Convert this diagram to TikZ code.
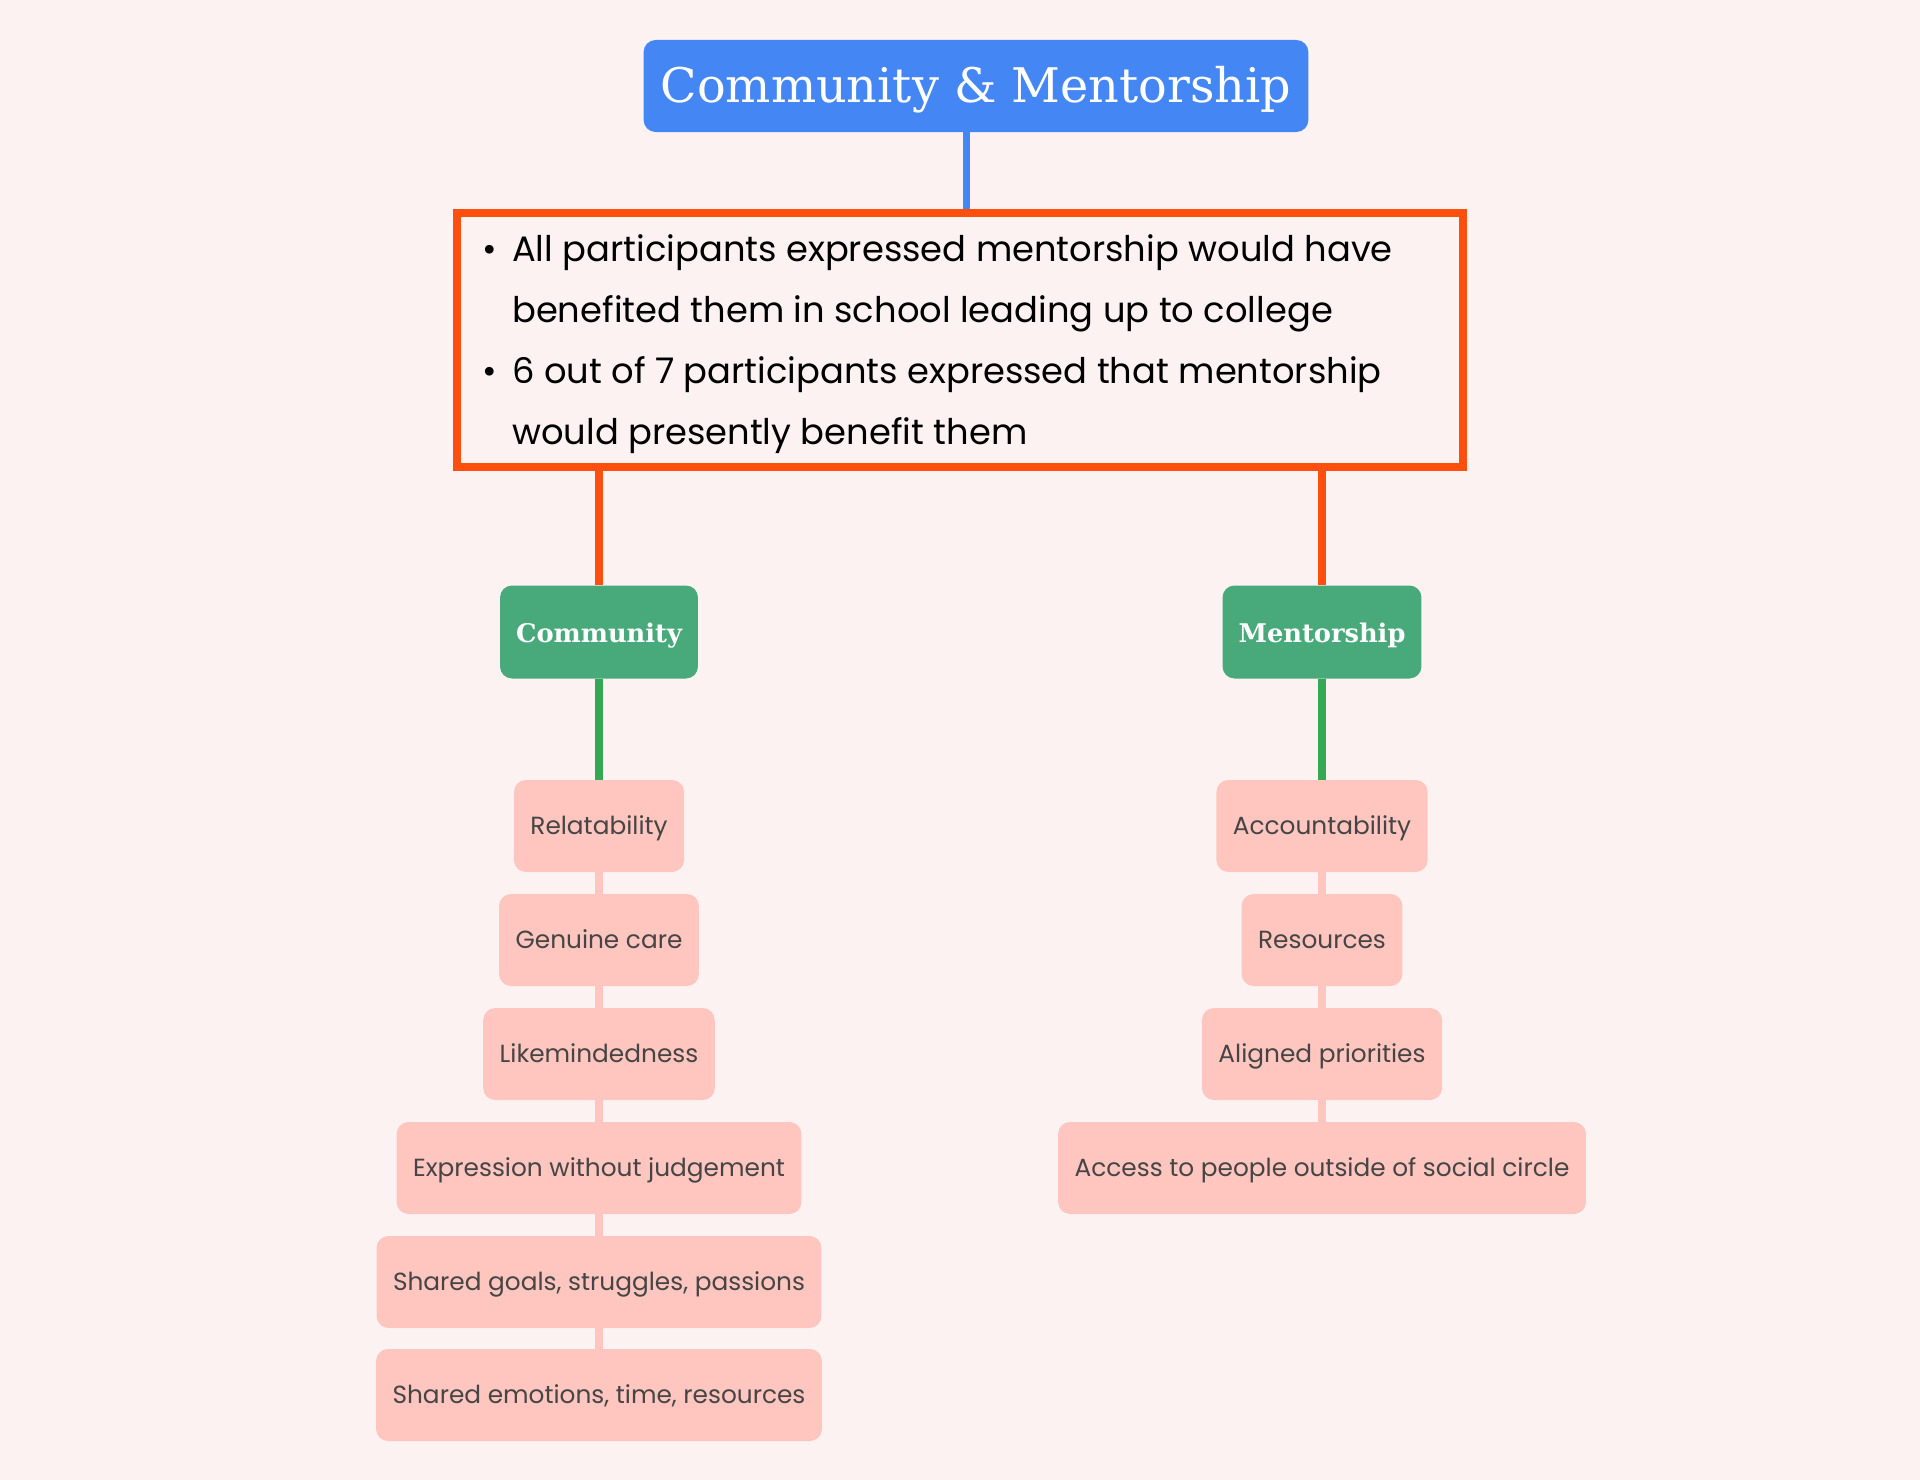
\documentclass[tikz,border=0pt]{standalone}
\usepackage{fontspec}
\setmainfont{Poppins}
\newfontfamily\titlefont{DejaVu Serif}
\definecolor{bgc}{HTML}{FCF2F2}
\definecolor{bluec}{HTML}{4487F4}
\definecolor{orangec}{HTML}{FF4F0F}
\definecolor{greenbox}{HTML}{48AA7B}
\definecolor{greenline}{HTML}{34A853}
\definecolor{pinkc}{HTML}{FFC5BF}
\definecolor{pinktext}{HTML}{454545}
\begin{document}
\begin{tikzpicture}[x=1pt,y=-1pt,
  titlebox/.style={fill=bluec, rounded corners=12pt, text=white, minimum height=92pt, inner xsep=17pt, text height=40pt, text depth=7.2pt, font=\titlefont\fontsize{47.7}{54}\selectfont},
  catbox/.style={fill=greenbox, rounded corners=12pt, text=white, minimum height=93pt, inner xsep=16pt, text height=24pt, text depth=3.2pt, font=\titlefont\bfseries\fontsize{25.7}{30}\selectfont},
  itembox/.style={fill=pinkc, rounded corners=12pt, text=pinktext, minimum height=92pt, inner xsep=16.5pt, text height=18pt, text depth=1.5pt, font=\fontsize{24.8}{30}\selectfont},
  infobox/.style={draw=orangec, line width=8pt, minimum width=1006pt, minimum height=254pt, inner sep=0pt},
  blueln/.style={draw=bluec, line width=7pt},
  orangeln/.style={draw=orangec, line width=8pt},
  greenln/.style={draw=greenline, line width=8pt},
  pinkln/.style={draw=pinkc, line width=8pt}]
\fill[bgc] (0,0) rectangle (1920,1480);
\useasboundingbox (0,0) rectangle (1920,1480);
% nodes
\node[titlebox] (title) at (976,86) {Community \& Mentorship};
\node[infobox] (info) at (960,340) {};
\node[anchor=west, inner sep=0pt, align=left, text=black, font=\fontsize{35.3}{61}\selectfont] (infotext) at (482,344.5)
  {\makebox[30pt][l]{•}All participants expressed mentorship would have\\
   \hspace*{30pt}benefited them in school leading up to college\\
   \makebox[30pt][l]{•}6 out of 7 participants expressed that mentorship\\
   \hspace*{30pt}would presently benefit them};
\coordinate (bx) at (966,0);
\node[catbox] (comm) at (599,632) {Community};
\node[catbox] (ment) at (1322,632) {Mentorship};
% left column
\node[itembox] (l1) at (599,826) {Relatability};
\node[itembox] (l2) at (599,940) {Genuine care};
\node[itembox] (l3) at (599,1054) {Likemindedness};
\node[itembox] (l4) at (599,1168) {Expression without judgement};
\node[itembox] (l5) at (599,1282) {Shared goals, struggles, passions};
\node[itembox] (l6) at (599,1395) {Shared emotions, time, resources};
% right column
\node[itembox] (r1) at (1322,826) {Accountability};
\node[itembox] (r2) at (1322,940) {Resources};
\node[itembox] (r3) at (1322,1054) {Aligned priorities};
\node[itembox] (r4) at (1322,1168) {Access to people outside of social circle};
% connectors
\draw[blueln] (title.south -| bx) -- (info.north -| bx);
\draw[orangeln] (info.south -| comm.north) -- (comm.north);
\draw[orangeln] (info.south -| ment.north) -- (ment.north);
\draw[greenln] (comm.south) -- (l1.north);
\draw[greenln] (ment.south) -- (r1.north);
\draw[pinkln] (l1.south) -- (l2.north);
\draw[pinkln] (l2.south) -- (l3.north);
\draw[pinkln] (l3.south) -- (l4.north);
\draw[pinkln] (l4.south) -- (l5.north);
\draw[pinkln] (l5.south) -- (l6.north);
\draw[pinkln] (r1.south) -- (r2.north);
\draw[pinkln] (r2.south) -- (r3.north);
\draw[pinkln] (r3.south) -- (r4.north);
\end{tikzpicture}
\end{document}
